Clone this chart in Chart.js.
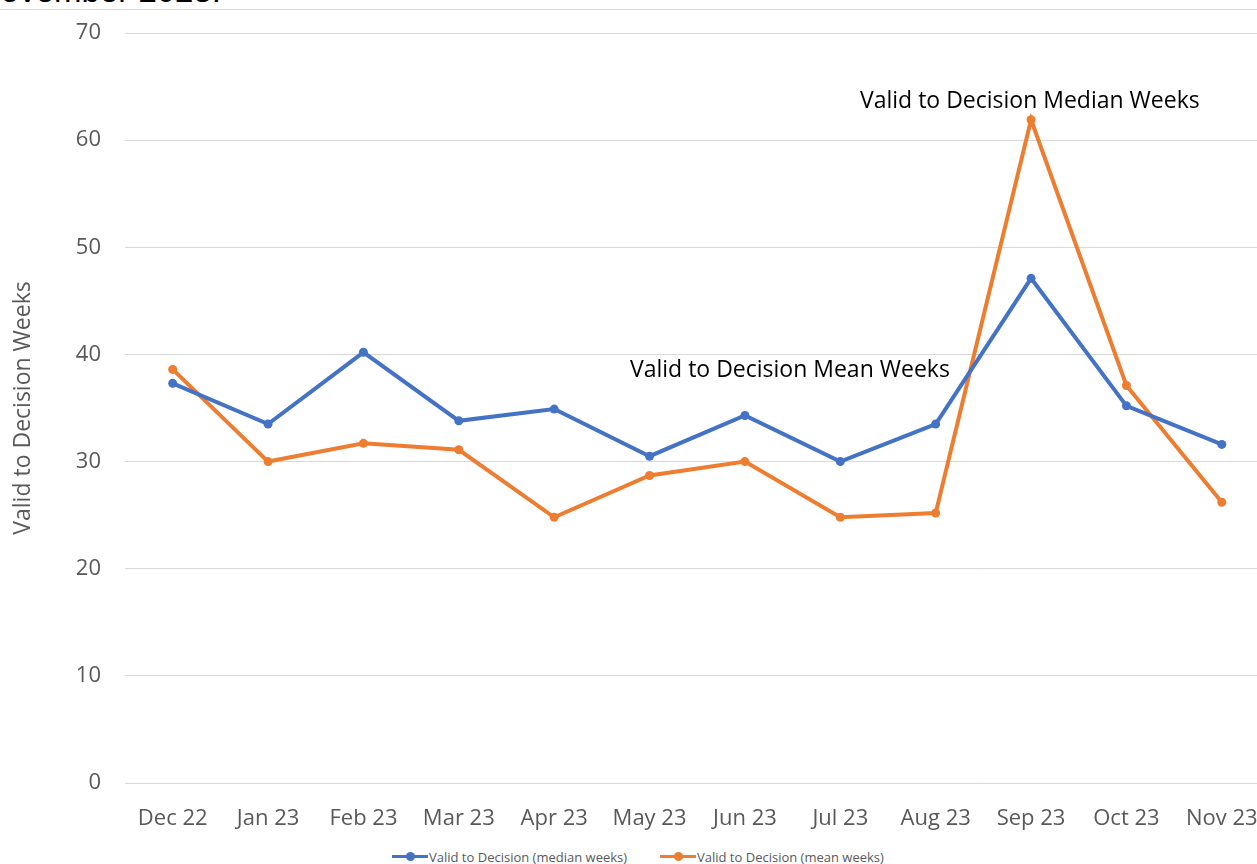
<!DOCTYPE html>
<html>
<head>
<meta charset="utf-8">
<script src="https://cdn.jsdelivr.net/npm/chart.js@4.4.1/dist/chart.umd.min.js"></script>
<style>
  html, body { margin: 0; padding: 0; background: #fff; }
  body { width: 1257px; height: 864px; overflow: hidden; position: relative; font-family: "Open Sans", sans-serif; }
  #cut { position: absolute; left: -23px; top: -26px; font-size: 33px; line-height: 33px; color: #000; white-space: nowrap; font-family: "Liberation Sans", Arial, sans-serif; }
  #topline { position: absolute; left: 0; top: 9px; width: 1257px; height: 1px; background: #d9d9d9; }
  #wrap { position: absolute; left: 0; top: 0; width: 1274px; height: 840px; }
  .note { position: absolute; font-size: 23px; color: #000; white-space: nowrap; line-height: 23px; }
  #legend { position: absolute; left: 0; top: 849px; width: 1257px; font-size: 13px; color: #595959; }
  .item { position: absolute; top: 0; height: 16px; line-height: 16px; white-space: nowrap; }
  .mark { position: absolute; left: 0; top: 6px; width: 36px; height: 3px; }
  .mark::after { content: ""; position: absolute; left: 14px; top: -3px; width: 9px; height: 9px; border-radius: 50%; background: inherit; }
  .item span.t { position: absolute; left: 37px; top: 0; }
</style>
</head>
<body>
<div id="cut">November 2023.</div>
<div id="topline"></div>
<div id="wrap"><canvas id="chart" width="1274" height="840"></canvas></div>
<div class="note" style="left:860px; top:88px;">Valid to Decision Median Weeks</div>
<div class="note" style="left:630px; top:357px;">Valid to Decision Mean Weeks</div>
<div id="legend">
  <div class="item" style="left:392px;"><div class="mark" style="background:#4472C4"></div><span class="t">Valid to Decision (median weeks)</span></div>
  <div class="item" style="left:660px;"><div class="mark" style="background:#ED7D31"></div><span class="t">Valid to Decision (mean weeks)</span></div>
</div>
<script>
  // Data
  const months = ["Dec 22", "Jan 23", "Feb 23", "Mar 23", "Apr 23", "May 23",
                  "Jun 23", "Jul 23", "Aug 23", "Sep 23", "Oct 23", "Nov 23"];
  const medianWeeks = [37.3, 33.5, 40.2, 33.8, 34.9, 30.5, 34.3, 30.0, 33.5, 47.1, 35.2, 31.6];
  const meanWeeks   = [38.6, 30.0, 31.7, 31.1, 24.8, 28.7, 30.0, 24.8, 25.2, 61.9, 37.1, 26.2];
  const yTicks = [0, 10, 20, 30, 40, 50, 60, 70];

  const BLUE = "#4472C4";
  const ORANGE = "#ED7D31";
  const GRID = "#d9d9d9";
  const TXT = "#595959";

  function series(label, data, color) {
    return {
      label, data,
      borderColor: color, backgroundColor: color,
      borderWidth: 4, pointRadius: 4.5, pointHoverRadius: 4.5,
      pointBorderWidth: 0, tension: 0
    };
  }

  new Chart(document.getElementById("chart"), {
    type: "line",
    data: {
      labels: months,
      datasets: [
        series("Valid to Decision (median weeks)", medianWeeks, BLUE),
        series("Valid to Decision (mean weeks)", meanWeeks, ORANGE)
      ]
    },
    options: {
      responsive: false,
      animation: false,
      layout: { padding: { top: 33, right: 0, bottom: 0, left: 0 } },
      plugins: { legend: { display: false }, tooltip: { enabled: false } },
      scales: {
        x: {
          offset: true,
          grid: { display: false },
          border: { display: false },
          ticks: { color: TXT, font: { family: "Open Sans", size: 22 }, padding: 15, maxRotation: 0, autoSkip: false },
          afterFit: s => { s.height = 57; }
        },
        y: {
          min: 0, max: 70,
          afterBuildTicks: s => { s.ticks = yTicks.map(v => ({ value: v })); },
          grid: { color: GRID, lineWidth: 1, drawTicks: false },
          border: { display: false },
          ticks: { color: TXT, font: { family: "Open Sans", size: 22 }, padding: 24 },
          title: { display: true, text: "Valid to Decision Weeks", color: TXT,
                   font: { family: "Open Sans", size: 23 }, padding: { top: 10, bottom: 0 } },
          // fixed axis width; drop the label overhang so the plot top sits at the layout padding
          afterFit: s => { s.width = 125; s.paddingTop = 0; s.paddingBottom = 0; }
        }
      }
    }
  });
</script>
</body>
</html>
